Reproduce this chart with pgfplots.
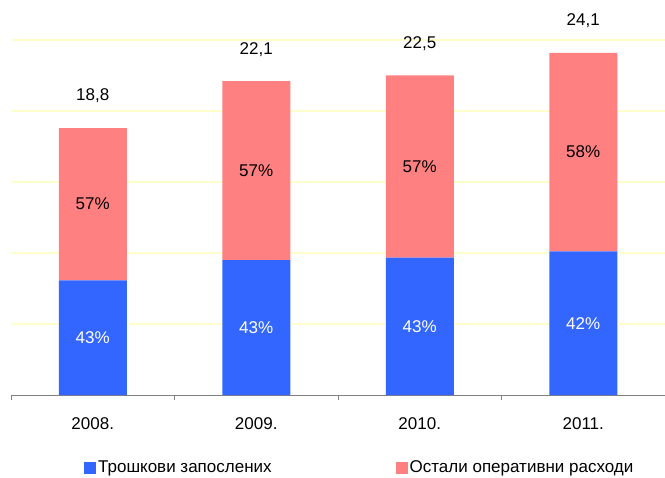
\documentclass[border=0pt]{standalone}
\usepackage{pgfplots}
\pgfplotsset{compat=1.18}
\usepackage{fontspec}
\setmainfont{Liberation Sans}
\definecolor{cblue}{HTML}{3366FF}
\definecolor{cred}{HTML}{FF8080}
\definecolor{cgrid}{HTML}{FFFFCC}
\begin{document}
\fontsize{17}{20}\selectfont
\begin{tikzpicture}
\begin{axis}[name=ax, clip=false, scale only axis, width=654pt, height=355pt,
 ybar stacked, bar width=68pt,
 xmin=-0.5, xmax=3.5, ymin=0, ymax=25,
 xtick={0,1,2,3}, xticklabels={2008.,2009.,2010.,2011.},
 minor xtick={-0.5,0.5,1.5,2.5,3.5},
 major x tick style={draw=none},
 minor x tick style={draw=gray, thin},
 tick align=outside, minor tick length=5pt, major tick length=5pt,
 xticklabel style={yshift=-12pt},
 ytick={5,10,15,20,25}, yticklabels={}, yticklabel style={inner sep=0pt},
 ymajorgrids, major grid style={draw=cgrid, line width=1.2pt},
 axis x line*=bottom, axis y line*=left,
 x axis line style={draw=gray, -},
 y axis line style={draw=none},
 y tick style={draw=none},
 legend columns=2,
 legend style={at={(0.1116,-0.206)}, anchor=west, draw=none, fill=none, inner sep=0pt,
   font=\fontsize{17}{20}\selectfont,
   /tikz/every even column/.append style={column sep=122pt}},
 legend cell align=left,
]
\addplot[fill=cblue, draw=none, legend image code/.code={\fill[cblue] (0pt,-6pt) rectangle (12pt,6pt);}]
 coordinates {(0,8.08) (1,9.50) (2,9.68) (3,10.12)};
\addlegendentry{Трошкови запослених}
\addplot[fill=cred, draw=none, legend image code/.code={\fill[cred] (0pt,-6pt) rectangle (12pt,6pt);}]
 coordinates {(0,10.72) (1,12.60) (2,12.82) (3,13.98)};
\addlegendentry{Остали оперативни расходи}
\coordinate (b0) at (axis cs:0,4.04);
\coordinate (b1) at (axis cs:1,4.75);
\coordinate (b2) at (axis cs:2,4.84);
\coordinate (b3) at (axis cs:3,5.06);
\coordinate (r0) at (axis cs:0,13.44);
\coordinate (r1) at (axis cs:1,15.80);
\coordinate (r2) at (axis cs:2,16.09);
\coordinate (r3) at (axis cs:3,17.11);
\coordinate (t0) at (axis cs:0,18.8);
\coordinate (t1) at (axis cs:1,22.1);
\coordinate (t2) at (axis cs:2,22.5);
\coordinate (t3) at (axis cs:3,24.1);
\end{axis}
\node[white] at (b0) {43\%};
\node[white] at (b1) {43\%};
\node[white] at (b2) {43\%};
\node[white] at (b3) {42\%};
\node at (r0) {57\%};
\node at (r1) {57\%};
\node at (r2) {57\%};
\node at (r3) {58\%};
\node[yshift=32pt] at (t0) {18,8};
\node[yshift=32pt] at (t1) {22,1};
\node[yshift=32pt] at (t2) {22,5};
\node[yshift=32pt] at (t3) {24,1};
\pgfresetboundingbox
\path[use as bounding box] ([shift={(-11pt,-83pt)}]ax.south west) rectangle ([shift={(0pt,40pt)}]ax.north east);
\end{tikzpicture}
\end{document}
